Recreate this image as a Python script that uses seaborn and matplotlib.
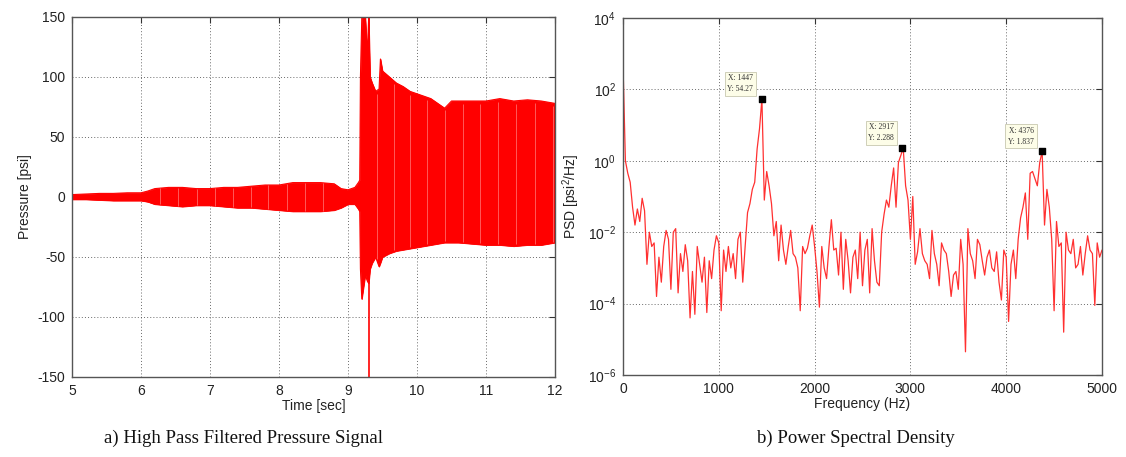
import numpy as np
import pandas as pd
import matplotlib
matplotlib.use("Agg")
import matplotlib.pyplot as plt
import seaborn as sns

# ---------------- data: pressure signal envelope (psi) ----------------
time_s = [5.0, 5.2, 5.4, 5.6, 5.8, 6.0, 6.1, 6.2, 6.4, 6.6, 6.8, 7.0, 7.2, 7.4, 7.6,
          7.8, 8.0, 8.2, 8.4, 8.6, 8.8, 8.9, 9.0, 9.1, 9.15, 9.17, 9.18, 9.2, 9.25,
          9.28, 9.3, 9.32, 9.35, 9.4, 9.45, 9.47, 9.5, 9.6, 9.7, 9.8, 9.9, 10.0,
          10.2, 10.4, 10.5, 10.6, 10.8, 11.0, 11.2, 11.4, 11.6, 11.8, 12.0]
upper_psi = [2, 2.5, 3, 3, 3.5, 3.5, 5, 7, 8, 8, 7, 7, 8, 8, 9,
             10, 10, 12, 12, 12, 11, 7, 6, 8, 12, 14, 100, 150, 150,
             120, 150, 100, 95, 88, 90, 115, 105, 100, 95, 92, 88, 86,
             82, 74, 80, 80, 80, 80, 82, 80, 81, 80, 78]
lower_psi = [-2, -2, -2.5, -3, -3, -3, -4, -6, -7, -8, -7, -7, -8, -9, -9,
             -10, -11, -12, -12, -12, -11, -9, -6, -6, -10, -12, -60, -85, -65,
             -70, -72, -60, -55, -50, -58, -55, -50, -47, -45, -44, -43, -42,
             -40, -38, -38, -38, -39, -40, -40, -41, -40, -40, -38]
spike_t = [9.30]
spike_lo = [-150]
spike_hi = [150]
# faint periodic gaps visible in the recorded trace (s)
gap_times = [6.28, 6.54, 6.81, 7.07, 7.33, 7.60, 7.84, 8.11, 8.38, 8.64,
             9.42, 9.66, 9.90, 10.15, 10.41, 10.66, 10.91, 11.18, 11.44, 11.71, 11.97]

# ---------------- data: PSD (log10 psi^2/Hz), 25 Hz spacing 0..5000 ----------------
psd_log10 = [
    2.7, 0.0, -0.35, -0.6, -1.3, -1.8, -1.35, -1.7, -1.05, -1.4,
    -2.9, -2.0, -2.4, -2.3, -3.8, -2.7, -3.4, -2.4, -1.95, -2.2,
    -3.6, -2.0, -1.9, -3.7, -2.6, -3.1, -2.35, -2.8, -4.4, -3.1,
    -4.3, -2.4, -2.9, -3.4, -2.7, -4.25, -2.8, -3.3, -2.5, -2.1,
    -2.3, -4.2, -2.5, -3.1, -2.4, -3.0, -2.6, -3.3, -2.2, -2.0,
    -3.4, -2.4, -1.45, -1.2, -0.8, -0.6, 0.33, 0.9, 1.73, -1.1,
    -0.3, -0.7, -1.2, -2.1, -1.7, -2.8, -1.8, -2.5, -2.9, -2.4,
    -1.95, -2.6, -2.7, -3.0, -4.2, -2.4, -2.6, -2.45, -2.1, -1.8,
    -2.4, -3.1, -4.1, -2.4, -3.0, -3.3, -2.4, -1.65, -2.5, -2.45,
    -3.2, -2.0, -3.6, -2.2, -2.8, -3.7, -2.7, -2.5, -3.3, -2.0,
    -3.5, -2.5, -2.2, -3.7, -1.9, -2.8, -3.4, -3.5, -2.0, -1.5,
    -1.1, -1.3, -0.7, -0.2, -1.3, -0.05, 0.15, 0.36, -0.7, -1.1,
    -2.2, -1.0, -2.9, -2.55, -1.9, -2.6, -2.8, -2.9, -3.3, -1.95,
    -2.6, -2.9, -3.5, -2.3, -2.5, -2.6, -3.1, -3.8, -3.2, -3.1,
    -3.6, -2.2, -2.9, -5.35, -1.9, -2.6, -2.8, -3.3, -2.2, -2.35,
    -2.8, -3.2, -2.7, -2.5, -3.0, -3.1, -2.55, -3.4, -3.9, -2.5,
    -2.7, -4.5, -2.9, -2.5, -3.3, -2.2, -1.6, -1.3, -0.9, -2.2,
    -0.35, -0.3, -0.5, -0.7, -0.05, 0.26, -1.8, -0.8, -1.3, -2.2,
    -4.2, -1.7, -2.4, -2.3, -4.8, -2.0, -2.5, -2.6, -2.2, -3.0,
    -2.9, -2.4, -3.2, -2.6, -2.1, -2.5, -2.6, -4.05, -2.3, -2.7,
    -2.5,
]
freq_step_hz = 25
peak_x = [1447, 2917, 4376]
peak_y = [54.27, 2.288, 1.837]
peak_labels = ["X: 1447\nY: 54.27", "X: 2917\nY: 2.288", "X: 4376\nY: 1.837"]

# ---------------- style ----------------
sns.set_theme(style="white")
plt.rcParams["font.family"] = ["Liberation Sans", "DejaVu Sans"]
plt.rcParams["axes.unicode_minus"] = False
plt.rcParams["mathtext.fontset"] = "custom"
plt.rcParams["mathtext.rm"] = "Liberation Sans"
plt.rcParams["mathtext.it"] = "Liberation Sans:italic"

RED = "#ff0000"
fig = plt.figure(figsize=(11.26, 4.57), dpi=100)
fig.patch.set_facecolor("white")

axL = fig.add_axes([72 / 1126, 1 - 377 / 457, 483 / 1126, 360 / 457])
axR = fig.add_axes([623 / 1126, 1 - 375 / 457, 479 / 1126, 357 / 457])


def style_axes(ax):
    for s in ax.spines.values():
        s.set_color("#555555")
        s.set_linewidth(1.0)
        s.set_visible(True)
    ax.grid(True, which="major", color="#444444", linestyle=(0, (1, 2.2)), linewidth=0.7, alpha=0.8)
    ax.set_axisbelow(True)
    ax.tick_params(axis="both", which="major", direction="in", length=4, width=0.8,
                   colors="#333333", labelsize=10, labelcolor="#222222",
                   top=True, right=True, pad=5)
    ax.tick_params(axis="both", which="minor", length=0)


# ---------------- left: pressure signal ----------------
sig = pd.DataFrame({"t": time_s, "hi": upper_psi, "lo": lower_psi})
axL.fill_between(sig["t"], sig["lo"], sig["hi"], color=RED, linewidth=0.6, edgecolor=RED)
sns.lineplot(data=sig, x="t", y="hi", ax=axL, color=RED, linewidth=0.8, estimator=None)
sns.lineplot(data=sig, x="t", y="lo", ax=axL, color=RED, linewidth=0.8, estimator=None)
gap_hi = np.interp(gap_times, time_s, upper_psi) * 0.97
gap_lo = np.interp(gap_times, time_s, lower_psi) * 0.97
axL.vlines(gap_times, gap_lo, gap_hi, color="#ff7070", linewidth=0.7, alpha=0.8)
axL.vlines(spike_t, spike_lo, spike_hi, color=RED, linewidth=1.2)
axL.set_xlim(5, 12)
axL.set_ylim(-150, 150)
axL.set_xticks(range(5, 13))
axL.set_yticks(range(-150, 151, 50))
axL.set_xlabel("Time [sec]", fontsize=10, color="#222222", labelpad=1)
axL.set_ylabel("Pressure [psi]", fontsize=10, color="#222222", labelpad=4)
style_axes(axL)

# ---------------- right: PSD ----------------
n = len(psd_log10)
psd = pd.DataFrame({"f": np.arange(n) * freq_step_hz, "p": np.power(10.0, psd_log10)})
sns.lineplot(data=psd, x="f", y="p", ax=axR, color="#ff3030", linewidth=0.9, estimator=None)
axR.set_yscale("log")
axR.set_xlim(0, 5000)
axR.set_ylim(1e-6, 1e4)
axR.set_xticks(range(0, 5001, 1000))
axR.set_yticks([1e-6, 1e-4, 1e-2, 1e0, 1e2, 1e4])
axR.set_xlabel("Frequency (Hz)", fontsize=10, color="#222222", labelpad=1)
axR.set_ylabel("PSD [psi$^2$/Hz]", fontsize=10, color="#222222", labelpad=4)
style_axes(axR)
axR.minorticks_off()

axR.scatter(peak_x, peak_y, marker="s", s=22, color="black", zorder=5)
for x, y, lab in zip(peak_x, peak_y, peak_labels):
    axR.annotate(lab, xy=(x, y), xytext=(-6, 4), textcoords="offset points",
                 ha="right", va="bottom", fontsize=5.5, color="#333333",
                 family="Liberation Serif", linespacing=1.5,
                 bbox=dict(boxstyle="square,pad=0.35", fc="#fdfde8", ec="#c8c8b0", lw=0.6),
                 zorder=6)

# ---------------- captions ----------------
fig.text(243 / 1126, 1 - 438 / 457, "a) High Pass Filtered Pressure Signal",
         ha="center", va="center", fontsize=13.5, family="Liberation Serif", color="#111111")
fig.text(856 / 1126, 1 - 438 / 457, "b) Power Spectral Density",
         ha="center", va="center", fontsize=13.5, family="Liberation Serif", color="#111111")

fig.savefig("out.png", dpi=100, facecolor="white")
